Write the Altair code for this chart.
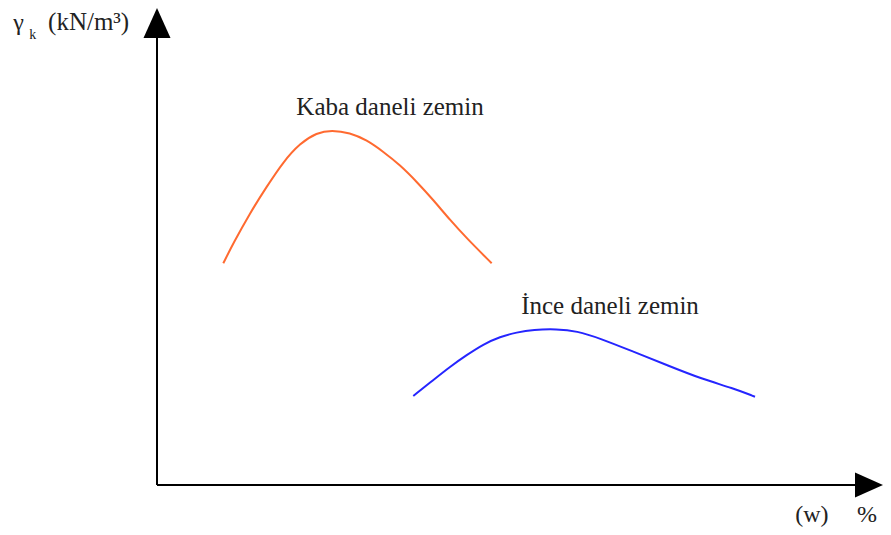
import altair as alt
import pandas as pd

# Curve data (arbitrary units: x = water content w %, y = unit weight)
kaba_x = [9.13, 10.51, 12.81, 15.11, 17.40, 19.70, 22.00, 24.06, 26.58, 28.88,
          31.17, 33.47, 35.77, 38.06, 40.36, 42.66, 46.10]
kaba_y = [46.48, 50.67, 57.02, 62.54, 67.78, 71.64, 73.86, 74.42, 73.86, 72.33,
          69.87, 67.09, 63.59, 59.75, 55.56, 51.72, 46.48]

ince_x = [35.30, 38.06, 40.36, 42.66, 44.94, 47.25, 49.55, 51.83, 55.06, 57.81,
          61.02, 65.61, 70.21, 74.79, 79.38, 82.37]
ince_y = [18.66, 22.01, 24.80, 27.25, 29.50, 31.09, 32.01, 32.56, 32.70, 32.29,
          30.75, 27.95, 25.16, 22.37, 20.27, 18.51]

# Curve labels
label_texts = ["Kaba daneli zemin", "İnce daneli zemin"]
label_x = [32.1, 62.4]
label_y = [77.5, 35.9]

# Axis extents
axis_max_x = 100
axis_max_y = 100

FONT = "Liberation Serif"

xs = alt.Scale(domain=[0, axis_max_x], nice=False, zero=False)
ys = alt.Scale(domain=[0, axis_max_y], nice=False, zero=False)

df_kaba = pd.DataFrame({"x": kaba_x, "y": kaba_y})
df_ince = pd.DataFrame({"x": ince_x, "y": ince_y})
df_lab = pd.DataFrame({"x": label_x, "y": label_y, "t": label_texts})

X = alt.X("x:Q", scale=xs, axis=None)
Y = alt.Y("y:Q", scale=ys, axis=None)

kaba = alt.Chart(df_kaba).mark_line(color="#FF6A30", strokeWidth=2, interpolate="basis").encode(x=X, y=Y)
ince = alt.Chart(df_ince).mark_line(color="#2525FF", strokeWidth=2, interpolate="basis").encode(x=X, y=Y)

labels = alt.Chart(df_lab).mark_text(font=FONT, fontSize=25, align="center", baseline="alphabetic",
                                     color="#222222").encode(x=X, y=Y, text="t:N")

# axes lines
df_xaxis = pd.DataFrame({"x": [0], "x2": [axis_max_x - 2], "y": [0]})
df_yaxis = pd.DataFrame({"x": [0], "y": [0], "y2": [axis_max_y - 3]})
xaxis = alt.Chart(df_xaxis).mark_rule(color="black", strokeWidth=2).encode(
    x=X, x2="x2:Q", y=Y)
yaxis = alt.Chart(df_yaxis).mark_rule(color="black", strokeWidth=2).encode(
    x=X, y=Y, y2="y2:Q")

x_arrow = alt.Chart(pd.DataFrame({"x": [axis_max_x], "y": [0]})).mark_point(
    shape="M0,0L-2,-0.9L-2,0.9Z", size=784, filled=True, color="black", opacity=1,
    strokeWidth=0).encode(x=X, y=Y)
y_arrow = alt.Chart(pd.DataFrame({"x": [0], "y": [axis_max_y]})).mark_point(
    shape="M0,0L-0.9,2L0.9,2Z", size=900, filled=True, color="black", opacity=1,
    strokeWidth=0).encode(x=X, y=Y)

# axis titles
df_yt = pd.DataFrame({
    "x": [-19.8, -17.6, -15.0],
    "y": [95.4, 93.5, 95.4],
    "t": ["γ", "k", "(kN/m³)"],
    "s": [24, 14, 25],
})
ytitle = alt.Chart(df_yt).mark_text(font=FONT, align="left", baseline="alphabetic",
                                    color="#222222").encode(
    x=X, y=Y, text="t:N", size=alt.Size("s:Q", scale=None, legend=None))

df_xt = pd.DataFrame({"x": [90.2, 97.8], "y": [-7.8, -7.8], "t": ["(w)", "%"]})
xtitle = alt.Chart(df_xt).mark_text(font=FONT, fontSize=24, align="center", baseline="alphabetic",
                                    color="#222222").encode(x=X, y=Y, text="t:N")

chart = alt.layer(xaxis, yaxis, x_arrow, y_arrow, kaba, ince, labels, ytitle, xtitle).properties(
    width=726, height=477,
    padding={"left": 149, "top": 0, "right": 0, "bottom": 42},
    autosize=alt.AutoSizeParams(type="none"),
    background="white",
).configure_view(stroke=None)

chart.save("out.html", embed_options={"renderer": "svg", "actions": False})
